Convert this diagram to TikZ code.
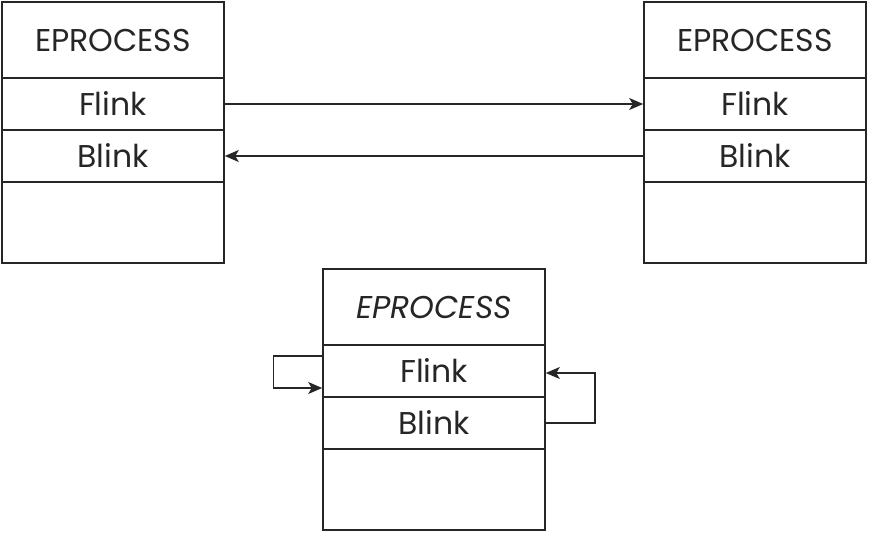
\documentclass[tikz,border=0pt]{standalone}
\usepackage{fontspec}
\setmainfont{Poppins}
\usetikzlibrary{arrows.meta}
\begin{document}
\begin{tikzpicture}[x=1pt,y=-1pt,
  cell/.style={draw=black!85,line width=1.6pt,minimum width=222pt,inner sep=0pt,font=\fontsize{31.5}{34}\selectfont,text=black!85},
  head/.style={cell,minimum height=76pt},
  row/.style={cell,minimum height=52pt},
  tail/.style={cell,minimum height=81pt},
  link/.style={draw=black!85,line width=1.4pt,-{Stealth[length=14pt,width=12pt,inset=3.5pt]}}]
\useasboundingbox (0,0) rectangle (869,533);
% left
\node[head] (Lh) at (113,40) {EPROCESS};
\node[row] (Lf) at (113,104) {Flink};
\node[row] (Lb) at (113,156) {Blink};
\node[tail] (Le) at (113,222.5) {};
% right
\node[head] (Rh) at (755,40) {EPROCESS};
\node[row] (Rf) at (755,104) {Flink};
\node[row] (Rb) at (755,156) {Blink};
\node[tail] (Re) at (755,222.5) {};
% middle
\node[head] (Mh) at (434,307) {\itshape EPROCESS};
\node[row] (Mf) at (434,371) {Flink};
\node[row] (Mb) at (434,423) {Blink};
\node[tail] (Me) at (434,489.5) {};
% arrows
\draw[link] (Lf.east) -- (Rf.west);
\draw[link] (Rb.west) -- (Lb.east);
\draw[link] ([yshift=15pt]Mf.west) -| ++(-49,0) |- ([yshift=-17pt]Mf.west);
\draw[link] (Mb.east) -| ++(49,0) |- ([yshift=-2pt]Mf.east);
\end{tikzpicture}
\end{document}
